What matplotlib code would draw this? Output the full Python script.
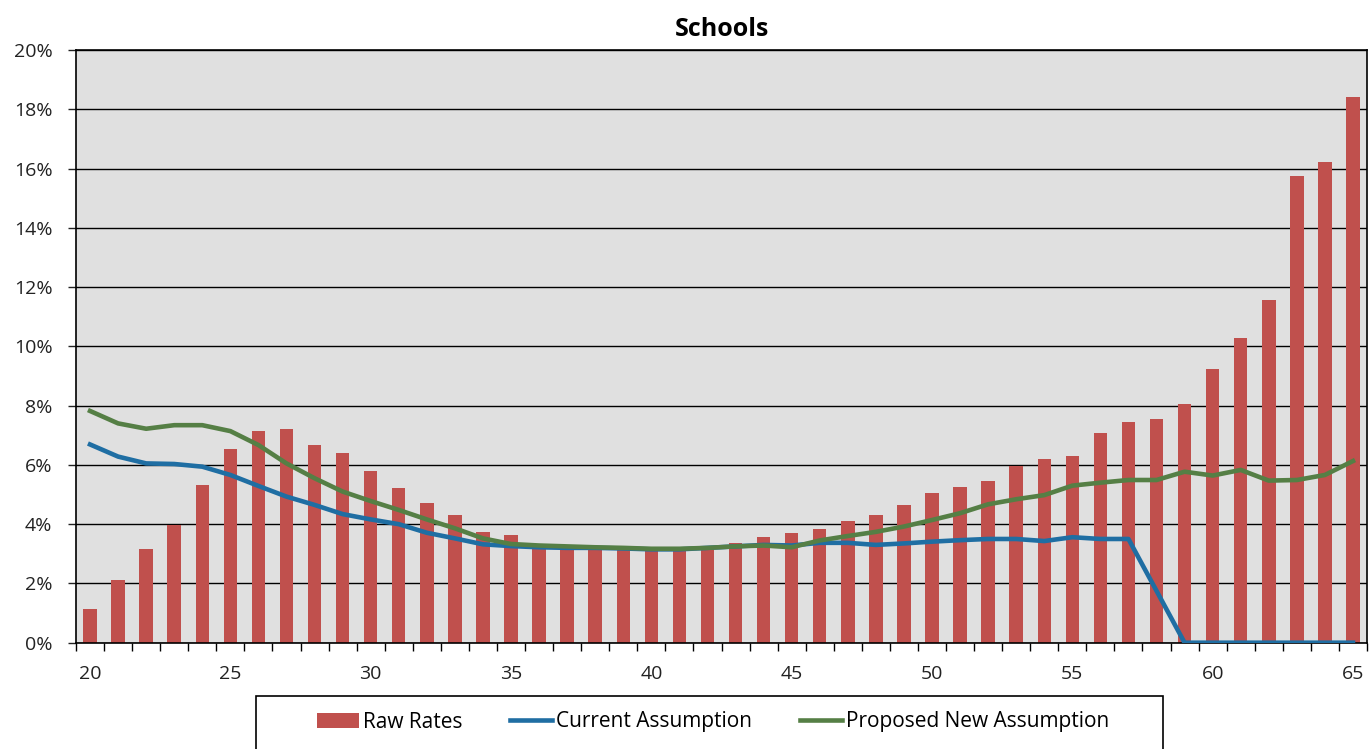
import numpy as np
import matplotlib
matplotlib.use("Agg")
import matplotlib.pyplot as plt
from matplotlib.patches import Rectangle
from matplotlib.ticker import FixedLocator, PercentFormatter

# ages 20..65
ages = list(range(20, 66))

raw_rates = [1.13, 2.12, 3.16, 3.97, 5.32, 6.53, 7.15, 7.20, 6.68, 6.41,
             5.78, 5.21, 4.72, 4.32, 3.74, 3.63, 3.25, 3.20, 3.20, 3.20,
             3.15, 3.15, 3.20, 3.37, 3.58, 3.69, 3.85, 4.10, 4.32, 4.64,
             5.04, 5.26, 5.47, 5.96, 6.21, 6.30, 7.09, 7.46, 7.56, 8.04,
             9.24, 10.29, 11.56, 15.76, 16.23, 18.42]

current_assumption = [6.69, 6.28, 6.05, 6.03, 5.94, 5.66, 5.29, 4.93, 4.65, 4.34,
                      4.16, 4.00, 3.71, 3.52, 3.32, 3.26, 3.22, 3.20, 3.20, 3.18,
                      3.15, 3.15, 3.20, 3.25, 3.30, 3.28, 3.37, 3.37, 3.30, 3.35,
                      3.41, 3.46, 3.50, 3.50, 3.43, 3.56, 3.50, 3.50, 1.75, 0.0,
                      0.0, 0.0, 0.0, 0.0, 0.0, 0.0]

proposed_assumption = [7.82, 7.40, 7.22, 7.34, 7.34, 7.14, 6.67, 6.05, 5.55, 5.10,
                       4.78, 4.48, 4.16, 3.86, 3.52, 3.33, 3.28, 3.25, 3.22, 3.20,
                       3.17, 3.17, 3.20, 3.25, 3.28, 3.22, 3.45, 3.60, 3.74, 3.92,
                       4.14, 4.37, 4.67, 4.84, 4.98, 5.30, 5.40, 5.49, 5.49, 5.77,
                       5.64, 5.83, 5.47, 5.49, 5.66, 6.13]

BAR_COLOR = "#C0504D"
BLUE = "#1F6EA3"
GREEN = "#557F45"
W, H = 1372, 749

plt.rcParams["font.family"] = ["Open Sans", "DejaVu Sans"]

fig = plt.figure(figsize=(W / 100, H / 100), dpi=100)
ax = fig.add_axes([76 / W, 1 - 642.7 / H, (1367 - 76) / W, (642.7 - 50) / H])
ax.set_facecolor("#E0E0E0")

x = np.arange(len(ages))
bars = ax.bar(x, raw_rates, width=0.48, color=BAR_COLOR, zorder=2)
line_cur, = ax.plot(x, current_assumption, color=BLUE, lw=3.3, zorder=3,
                    solid_joinstyle="round")
line_new, = ax.plot(x, proposed_assumption, color=GREEN, lw=3.3, zorder=4,
                    solid_joinstyle="round")

ax.set_xlim(-0.5, len(ages) - 0.5)
ax.set_ylim(0, 20)

# y axis
ax.set_yticks(np.arange(0, 21, 2))
ax.yaxis.set_major_formatter(PercentFormatter(decimals=0))
ax.yaxis.grid(True, color="black", lw=1.0, zorder=1)
ax.set_axisbelow(True)
ax.tick_params(axis="y", direction="out", length=6, width=1, labelsize=14,
               pad=11, colors="#222222")

# x axis: ticks between categories, labels every 5 years
label_pos = [i for i, a in enumerate(ages) if a % 5 == 0]
ax.set_xticks(label_pos)
ax.set_xticklabels([str(ages[i]) for i in label_pos])
ax.xaxis.set_minor_locator(FixedLocator(np.arange(-0.5, len(ages), 1.0)))
ax.tick_params(axis="x", which="major", length=0, labelsize=14, pad=16,
               colors="#222222")
ax.tick_params(axis="x", which="minor", direction="out", length=6, width=1)

for side in ["left", "bottom", "right", "top"]:
    ax.spines[side].set_color("black")
    ax.spines[side].set_linewidth(1.2)

ax.set_title("Schools", fontsize=18, fontweight="bold", pad=10)

# legend box drawn separately so its padding matches
fig.patches.append(Rectangle((256 / W, -0.05), (1163 - 256) / W, 0.05 + 1 - 696 / H,
                             transform=fig.transFigure, fill=False,
                             edgecolor="black", lw=1.2))
fig.legend([bars, line_cur, line_new],
           ["Raw Rates", "Current Assumption", "Proposed New Assumption"],
           loc="center", bbox_to_anchor=(713 / W, 1 - 722 / H),
           ncol=3, frameon=False, fontsize=15, handlelength=2.0,
           handletextpad=0.2, columnspacing=2.3, borderpad=0)

fig.savefig("out.png", dpi=100)
